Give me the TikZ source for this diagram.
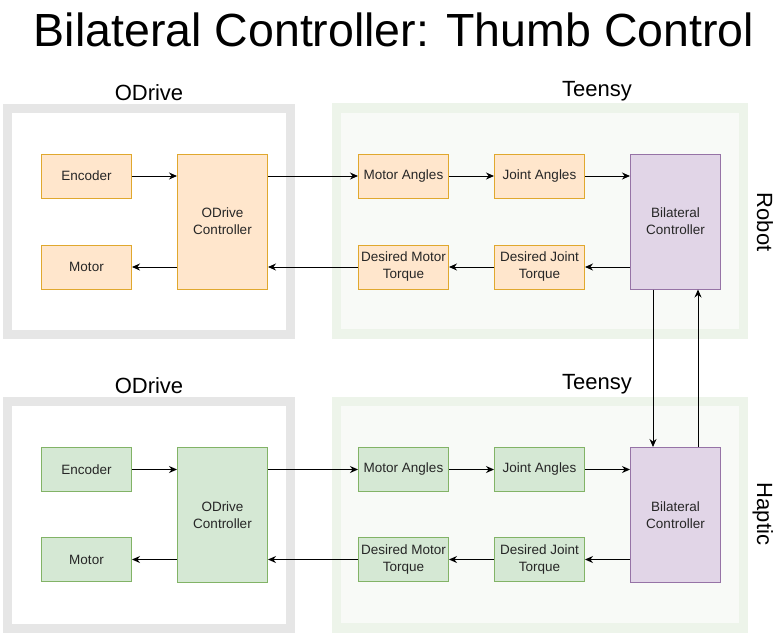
\documentclass[tikz,border=0pt]{standalone}
\usepackage{fontspec}
\setmainfont{Liberation Sans}
\usetikzlibrary{arrows.meta, positioning}
\definecolor{orfill}{HTML}{FFE6CC}
\definecolor{ordraw}{HTML}{E0A82E}
\definecolor{grfill}{HTML}{D5E8D4}
\definecolor{grdraw}{HTML}{82B366}
\definecolor{pufill}{HTML}{E1D5E7}
\definecolor{pudraw}{HTML}{9673A6}
\definecolor{odgray}{HTML}{E6E6E6}
\definecolor{tyedge}{HTML}{EDF4EA}
\definecolor{tyfill}{HTML}{F8FAF7}
\tikzset{
	block/.style={rectangle, draw, line width=1pt, minimum width=90pt, minimum height=44pt, inner sep=0pt, align=center, text=black!85, font=\fontsize{13.5}{17}\selectfont},
	tall/.style={block, minimum height=135pt},
	obox/.style={block, draw=ordraw, fill=orfill},
	gbox/.style={block, draw=grdraw, fill=grfill},
	pbox/.style={tall, draw=pudraw, fill=pufill},
	line/.style={draw, line width=1pt, -{Stealth[length=8pt, width=7pt]}}
}

\begin{document}
\begin{tikzpicture}[
	x=1pt, y=-1pt,
	% frames round the two boards
	odframe/.style={draw=odgray, line width=9pt, fill=white},
	tyframe/.style={draw=tyedge, line width=9.5pt, fill=tyfill},
	% frame captions
	caption/.style={anchor=base, font=\fontsize{22}{26}\selectfont}
	]
	\useasboundingbox (0,0) rectangle (782,638);
	
	% --- Title ---
	\node[anchor=base, font=\fontsize{46.5}{50}\selectfont] (title) at (394,46) {Bilateral Controller: Thumb Control};
	
	% --- Frames ---
	\draw[odframe] (7.5,108) rectangle (290.5,334.5);
	\draw[tyframe] (336.5,108) rectangle (743.5,334);
	\draw[odframe] (7.5,401.5) rectangle (290.5,628);
	\draw[tyframe] (336.5,401.5) rectangle (743.5,628);
	
	\node[caption] (od_r_cap) at (149,100) {ODrive};
	\node[caption] (ty_r_cap) at (597,96) {Teensy};
	\node[caption] (od_h_cap) at (149,393) {ODrive};
	\node[caption] (ty_h_cap) at (597,389) {Teensy};
	\node[caption, rotate=-90] (robot) at (757,222) {Robot};
	\node[caption, rotate=-90] (haptic) at (757,514) {Haptic};
	
	% --- Robot side ---
	\node[obox] (enc_r) at (86.5,176) {Encoder};
	\node[obox, below=46pt of enc_r] (mot_r) {Motor};
	\node[obox, tall, right=45pt of enc_r.north east, anchor=north west] (ctl_r) {ODrive\\Controller};
	\node[obox, right=90pt of enc_r.east -| ctl_r.east] (ma_r) {Motor Angles};
	\node[obox, right=45pt of ma_r] (ja_r) {Joint Angles};
	\node[pbox, right=45pt of ja_r.north east, anchor=north west] (bc_r) {Bilateral\\Controller};
	\node[obox, below=46pt of ma_r] (dmt_r) {Desired Motor\\Torque};
	\node[obox, below=46pt of ja_r] (djt_r) {Desired Joint\\Torque};
	
	% --- Haptic side ---
	\node[gbox] (enc_h) at (86.5,469.5) {Encoder};
	\node[gbox, below=45pt of enc_h] (mot_h) {Motor};
	\node[gbox, tall, right=45pt of enc_h.north east, anchor=north west] (ctl_h) {ODrive\\Controller};
	\node[gbox, right=90pt of enc_h.east -| ctl_h.east] (ma_h) {Motor Angles};
	\node[gbox, right=45pt of ma_h] (ja_h) {Joint Angles};
	\node[pbox, right=45pt of ja_h.north east, anchor=north west] (bc_h) {Bilateral\\Controller};
	\node[gbox, below=45pt of ma_h] (dmt_h) {Desired Motor\\Torque};
	\node[gbox, below=45pt of ja_h] (djt_h) {Desired Joint\\Torque};
	
	% --- Connections, robot ---
	\draw[line] (enc_r.east) -- (enc_r.east -| ctl_r.west);
	\draw[line] (ctl_r.west |- mot_r) -- (mot_r.east);
	\draw[line] (ctl_r.east |- enc_r) -- (ma_r.west);
	\draw[line] (ma_r) -- (ja_r);
	\draw[line] (ja_r.east) -- (ja_r.east -| bc_r.west);
	\draw[line] (bc_r.west |- djt_r) -- (djt_r.east);
	\draw[line] (djt_r) -- (dmt_r);
	\draw[line] (dmt_r.west) -- (dmt_r.west -| ctl_r.east);
	
	% --- Connections, haptic ---
	\draw[line] (enc_h.east) -- (enc_h.east -| ctl_h.west);
	\draw[line] (ctl_h.west |- mot_h) -- (mot_h.east);
	\draw[line] (ctl_h.east |- enc_h) -- (ma_h.west);
	\draw[line] (ma_h) -- (ja_h);
	\draw[line] (ja_h.east) -- (ja_h.east -| bc_h.west);
	\draw[line] (bc_h.west |- djt_h) -- (djt_h.east);
	\draw[line] (djt_h) -- (dmt_h);
	\draw[line] (dmt_h.west) -- (dmt_h.west -| ctl_h.east);
	
	% --- Between the two bilateral controllers ---
	\draw[line] ([xshift=-22.5pt]bc_r.south) -- ([xshift=-22.5pt]bc_h.north);
	\draw[line] ([xshift=22.5pt]bc_h.north) -- ([xshift=22.5pt]bc_r.south);
	
\end{tikzpicture}
\end{document}
